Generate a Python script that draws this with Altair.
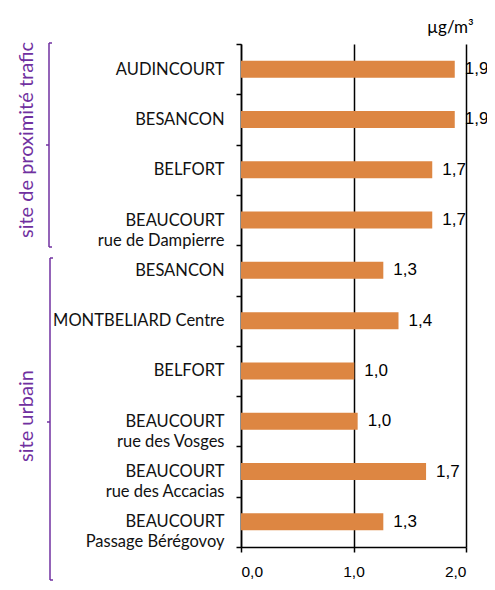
import altair as alt
import pandas as pd

# ---- data ----
stations = [
    "AUDINCOURT",
    "BESANCON ",
    "BELFORT",
    "BEAUCOURT|rue de Dampierre",
    "BESANCON",
    "MONTBELIARD Centre",
    "BELFORT\u200b",
    "BEAUCOURT|rue des Vosges",
    "BEAUCOURT|rue des Accacias",
    "BEAUCOURT|Passage Bérégovoy",
]
values = [1.90, 1.90, 1.70, 1.70, 1.265, 1.40, 1.007, 1.037, 1.645, 1.265]
value_labels = ["1,9", "1,9", "1,7", "1,7", "1,3", "1,4", "1,0", "1,0", "1,7", "1,3"]
x_ticks = [0, 1, 2]
groups = ["site de proximité trafic", "site urbain"]
unit = "µg/m³"

df = pd.DataFrame({"station": stations, "value": values, "label": value_labels})

PURPLE = "#7030A0"
ORANGE = "#DD8642"

y_enc = alt.Y(
    "station:N",
    sort=stations,
    scale=alt.Scale(paddingInner=0, paddingOuter=0),
    axis=alt.Axis(
        title=None,
        labelExpr="split(datum.label, '|')",
        tickBand="extent",
        domainColor="black",
        domainWidth=1.5,
        tickColor="black",
        tickWidth=1.5,
        tickSize=5,
        labelPadding=12,
        labelFont="Lato",
        labelFontSize=16.5,
        labelColor="#111111",
        labelLineHeight=20,
        grid=False,
    ),
)
x_enc = alt.X(
    "value:Q",
    scale=alt.Scale(domain=[0, 2]),
    axis=alt.Axis(
        title=None,
        values=x_ticks,
        labelExpr="replace(format(datum.value, '.1f'), '.', ',')",
        grid=True,
        gridColor="black",
        gridWidth=1.5,
        domainColor="black",
        domainWidth=1.5,
        tickColor="black",
        tickWidth=1.5,
        tickSize=5,
        labelPadding=12,
        labelFont="Liberation Sans",
        labelFontSize=15.5,
        labelColor="black",
    ),
)

base = alt.Chart(df)
bars = base.mark_bar(size=17, color=ORANGE).encode(y=y_enc, x=x_enc)
texts = base.mark_text(
    align="left", baseline="middle", dx=10, font="Liberation Sans", fontSize=17, color="black"
).encode(y=alt.Y("station:N", sort=stations), x="value:Q", text="label:N")

one = pd.DataFrame({"a": [0]})


def bracket(x, y1, y2, ymid):
    seg = alt.Chart(one).mark_rule(color=PURPLE, strokeWidth=1.5)
    return [
        seg.encode(x=alt.value(x), y=alt.value(y1), y2=alt.value(y2)),
        seg.encode(x=alt.value(x), x2=alt.value(x + 3), y=alt.value(y1)),
        seg.encode(x=alt.value(x), x2=alt.value(x + 3), y=alt.value(y2)),
        seg.encode(x=alt.value(x - 3), x2=alt.value(x), y=alt.value(ymid)),
    ]


def group_label(name, y):
    return alt.Chart(pd.DataFrame({"t": [name]})).mark_text(
        angle=270, font="Lato", fontSize=20, color=PURPLE, align="center", baseline="middle"
    ).encode(text="t:N", x=alt.value(-214), y=alt.value(y))


unit_txt = alt.Chart(pd.DataFrame({"t": [unit]})).mark_text(
    font="Lato", fontSize=17, color="black", align="left", baseline="middle"
).encode(text="t:N", x=alt.value(186), y=alt.value(-16))

layers = [bars, texts]
layers += bracket(-192, -1, 203, 101)
layers += bracket(-191, 214, 536, 378)
layers += [group_label(groups[0], 96), group_label(groups[1], 372), unit_txt]

chart = (
    alt.layer(*layers)
    .properties(
        width=225,
        height=503,
        padding={"left": 233, "top": 36, "right": 21, "bottom": 35},
        autosize=alt.AutoSizeParams(type="none"),
    )
    .configure_view(stroke=None)
)

chart.save("out.html", embed_options={"renderer": "svg", "actions": False})
